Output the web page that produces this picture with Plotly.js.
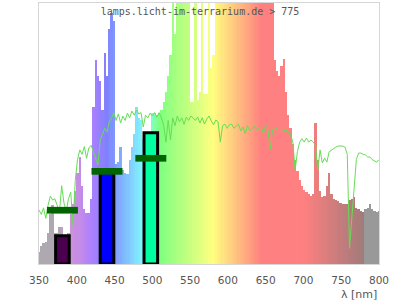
<!DOCTYPE html>
<html>
<head>
<meta charset="utf-8">
<script src="https://cdn.plot.ly/plotly-3.0.1.min.js"></script>
<style>html,body{margin:0;padding:0;background:#fff;}#chart{width:400px;height:300px;}</style>
</head>
<body>
<div id="chart"></div>
<script>
// measured lamp spectrum, relative intensity, 3 nm bins starting at 350 nm (values >1 are clipped at the top)
const spectrum = [
 0.046,0.07,0.08,0.085,0.12,0.19,0.225,0.12,0.12,0.14,
 0.14,0.11,0.10,0.12,0.19,0.23,0.28,0.35,0.41,0.30,
 0.21,0.195,0.195,0.25,0.60,0.78,0.72,0.70,0.59,0.81,
 0.72,0.90,0.96,0.93,0.385,0.39,0.45,0.36,0.35,0.345,
 0.40,0.45,0.50,0.60,0.56,0.55,0.48,0.48,0.49,0.50,
 0.58,0.58,0.57,0.58,0.59,0.62,0.66,0.72,0.80,1.5,
 0.88,1.5,1.5,1.5,1.5,1.5,1.5,0.62,0.62,1.5,
 0.63,0.66,1.5,0.65,0.65,1.5,0.75,0.80,1.5,
 1.5,1.5,1.5,1.5,1.5,1.5,1.5,1.5,1.5,1.5,1.5,1.5,
 1.5,1.5,1.5,1.5,1.5,1.5,1.5,1.5,1.5,1.5,1.5,1.5,
 1.5,0.78,0.74,0.72,0.76,0.785,0.66,0.57,0.52,0.46,
 0.40,0.355,0.32,0.30,0.285,0.275,0.27,0.26,0.27,0.54,
 0.40,0.28,0.255,0.26,0.30,0.35,0.27,0.25,0.245,0.24,
 0.235,0.23,0.23,0.23,0.245,0.25,0.255,0.215,0.21,0.205,
 0.20,0.21,0.215,0.23,0.21,0.205,0.20,0.205
];
// reference (daylight) curve on the same 3 nm grid
const reference = [
 0.207,0.19,0.215,0.175,0.225,0.26,0.245,0.25,0.225,0.195,
 0.30,0.235,0.20,0.25,0.275,0.15,0.32,0.40,0.437,0.42,
 0.45,0.405,0.445,0.455,0.43,0.40,0.38,0.475,0.495,0.52,
 0.505,0.545,0.56,0.58,0.55,0.575,0.54,0.567,0.55,0.578,
 0.56,0.586,0.57,0.59,0.575,0.58,0.525,0.57,0.56,0.578,
 0.567,0.58,0.563,0.58,0.56,0.53,0.467,0.55,0.475,0.56,
 0.53,0.567,0.545,0.56,0.535,0.563,0.55,0.567,0.56,0.55,
 0.563,0.54,0.56,0.536,0.555,0.567,0.548,0.533,0.552,0.545,
 0.467,0.53,0.536,0.52,0.533,0.536,0.52,0.53,0.536,0.51,
 0.525,0.50,0.53,0.51,0.52,0.53,0.513,0.52,0.525,0.50,
 0.53,0.517,0.437,0.513,0.517,0.52,0.513,0.517,0.51,0.513,
 0.506,0.494,0.467,0.36,0.43,0.467,0.48,0.467,0.483,0.467,
 0.475,0.467,0.455,0.36,0.437,0.387,0.406,0.39,0.43,0.437,
 0.444,0.448,0.452,0.452,0.452,0.448,0.42,0.06,0.18,0.30,
 0.40,0.425,0.425,0.42,0.418,0.41,0.41,0.40,0.395,0.39,0.40
];
const startNm = 350, stepNm = 3;

// summary bands (violet, blue, cyan)
const bandCenters = [381, 440, 498];
const bandValues = [0.108, 0.361, 0.503];
const bandTargets = [0.206, 0.355, 0.405];
const bandColors = ['#4a004f', '#0000ff', '#00ffa0'];

const tickVals = [350, 400, 450, 500, 550, 600, 650, 700, 750, 800];
const tickText = ['350','400','450','500','550','600','650','700','750','800'];

const wlSpec = spectrum.map((_, i) => startNm + i * stepNm);
const wlRef = reference.map((_, i) => startNm + i * stepNm);

function specColor(l) {
  if (l < 380) return 'rgb(174,168,176)';
  if (l >= 780) return 'rgb(153,153,153)';
  let r, g, b;
  if (l < 440) { r = (440 - l) / 60; g = 0; b = 1; }
  else if (l < 490) { r = 0; g = (l - 440) / 50; b = 1; }
  else if (l < 510) { r = 0; g = 1; b = (510 - l) / 20; }
  else if (l < 580) { r = (l - 510) / 70; g = 1; b = 0; }
  else if (l < 645) { r = 1; g = (645 - l) / 65; b = 0; }
  else { r = 1; g = 0; b = 0; }
  let c = [255 * (0.5 + 0.5 * r), 255 * (0.5 + 0.5 * g), 255 * (0.5 + 0.5 * b)];
  let f = 1, gray = [0, 0, 0];
  if (l < 420) { f = 0.3 + 0.7 * (l - 380) / 40; gray = [174, 168, 176]; }
  else if (l > 700) { f = 0.3 + 0.7 * (780 - l) / 80; gray = [120, 120, 120]; }
  c = c.map((v, i) => Math.round(f * v + (1 - f) * gray[i]));
  return 'rgb(' + c.join(',') + ')';
}
const specColors = wlSpec.map(specColor);

const halfBand = 20.5;
const tgtX = [], tgtY = [];
bandCenters.forEach((c, i) => { tgtX.push(c - halfBand, c + halfBand, null); tgtY.push(bandTargets[i], bandTargets[i], null); });

const traces = [
  { type: 'bar', x: wlSpec, y: spectrum, width: stepNm,
    marker: { color: specColors, line: { width: 0 } }, hoverinfo: 'skip' },
  { type: 'bar', x: bandCenters, y: bandValues, width: 18,
    marker: { color: bandColors, line: { color: '#000', width: 3 } }, hoverinfo: 'skip' },
  { type: 'scatter', mode: 'lines', x: wlRef, y: reference,
    line: { color: '#66dd55', width: 1 }, hoverinfo: 'skip' },
  { type: 'scatter', mode: 'lines', x: tgtX, y: tgtY, connectgaps: false,
    line: { color: '#006400', width: 6.7 }, hoverinfo: 'skip' }
];

const layout = {
  width: 400, height: 300,
  margin: { l: 39, r: 21, t: 3, b: 36 },
  paper_bgcolor: '#fff', plot_bgcolor: '#fff',
  showlegend: false, barmode: 'overlay', bargap: 0,
  title: { text: 'lamps.licht-im-terrarium.de &gt; 775', xref: 'container', x: 0.5, xanchor: 'center',
           yref: 'container', y: 0.963, yanchor: 'middle',
           font: { family: 'DejaVu Sans Mono', size: 10, color: '#555' } },
  xaxis: { range: [350, 800], tickvals: tickVals, ticktext: tickText,
           ticks: 'outside', ticklen: 6, tickcolor: 'rgba(0,0,0,0)',
           showgrid: false, zeroline: false, showline: true, mirror: true, linecolor: '#d6d6d6', linewidth: 1,
           tickfont: { family: 'DejaVu Sans', size: 10.5, color: '#555' } },
  yaxis: { range: [0, 1], showticklabels: false, ticks: '', showgrid: false, zeroline: false,
           showline: true, mirror: true, linecolor: '#d6d6d6', linewidth: 1 },
  annotations: [{ text: 'λ [nm]', xref: 'paper', x: 1, xanchor: 'right', yref: 'paper', y: -0.115, yanchor: 'middle',
                  showarrow: false, font: { family: 'DejaVu Sans', size: 11, color: '#555' } }]
};

Plotly.newPlot('chart', traces, layout, { staticPlot: true });
</script>
</body>
</html>
